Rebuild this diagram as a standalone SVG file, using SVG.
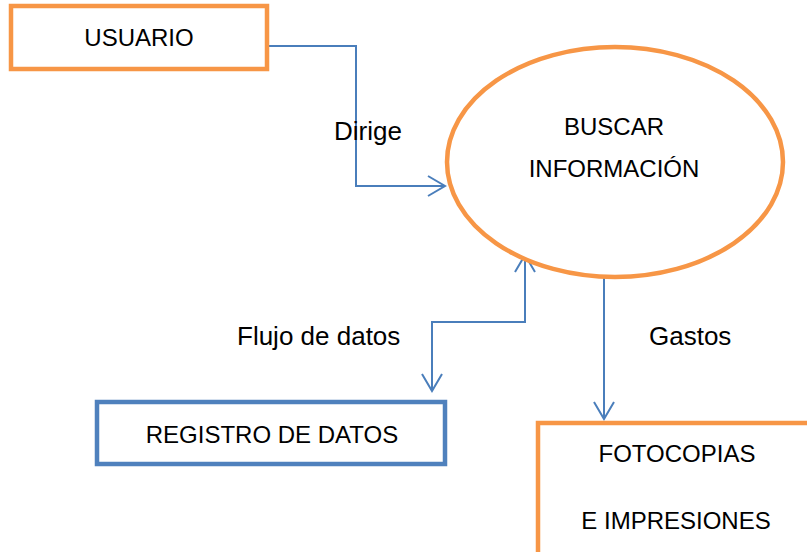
<svg xmlns="http://www.w3.org/2000/svg" width="807" height="552" viewBox="0 0 807 552">
<style>
.t{font-family:"Liberation Sans",Arial,sans-serif;font-size:24px;fill:#000}
.l{font-size:26px}
.org{fill:#fff;stroke:#F79646;stroke-width:4.5}
.blu{fill:#fff;stroke:#4F81BD;stroke-width:4.5}
.con{fill:none;stroke:#4A7EBB;stroke-width:2}
</style>
<defs>
<marker id="ah" markerUnits="userSpaceOnUse" viewBox="-20 -12 22 24" refX="0" refY="0" markerWidth="22" markerHeight="24" orient="auto-start-reverse">
<path d="M-17,-10 L0,0 L-17,10" fill="none" stroke="#4A7EBB" stroke-width="2"/>
</marker>
</defs>
<rect width="807" height="552" fill="#fff"/>
<g id="connectors">
<path class="con" d="M267,46 H356 V186 H445" marker-end="url(#ah)"/>
<path class="con" d="M525,255 V322 H432 V391" marker-start="url(#ah)" marker-end="url(#ah)"/>
<path class="con" d="M604,277 V419" marker-end="url(#ah)"/>
</g>
<g id="usuario">
<rect class="org" x="11" y="6" width="256" height="63"/>
<text class="t" x="139" y="46" text-anchor="middle">USUARIO</text>
</g>
<g id="buscar">
<ellipse class="org" cx="615" cy="162" rx="168" ry="115"/>
<text class="t" x="614" y="135" text-anchor="middle">BUSCAR</text>
<text class="t" x="614" y="177" text-anchor="middle">INFORMACIÓN</text>
</g>
<g id="registro">
<rect class="blu" x="97" y="402" width="348" height="62"/>
<text class="t" x="272" y="443" text-anchor="middle">REGISTRO DE DATOS</text>
</g>
<g id="fotocopias">
<rect class="org" x="538" y="423" width="300" height="160"/>
<text class="t" x="677" y="462" text-anchor="middle">FOTOCOPIAS</text>
<text class="t" x="676" y="529" text-anchor="middle">E IMPRESIONES</text>
</g>
<g id="labels">
<text class="t l" x="334" y="140">Dirige</text>
<text class="t l" x="237" y="345">Flujo de datos</text>
<text class="t l" x="649" y="345">Gastos</text>
</g>
</svg>
